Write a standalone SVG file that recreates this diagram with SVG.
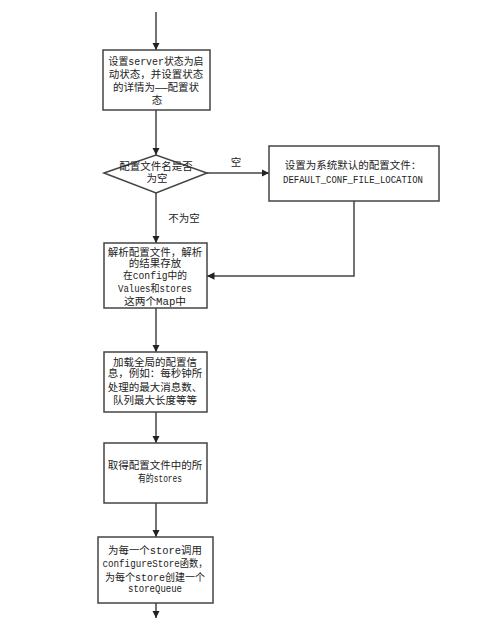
<svg xmlns="http://www.w3.org/2000/svg" width="481" height="630" viewBox="0 0 481 630">
<style>
.box{fill:#fff;stroke:#444;stroke-width:1.5}
.ln{fill:none;stroke:#444;stroke-width:1.5}
text{font-family:"Liberation Mono","Noto Sans CJK SC",monospace;font-size:10.5px;fill:#222;text-anchor:middle}
</style>
<defs>
<marker id="ah" viewBox="0 0 10 10" refX="10" refY="5" markerWidth="5" markerHeight="5" orient="auto" markerUnits="strokeWidth">
<path d="M0,0 L10,5 L0,10 Z" fill="#222"/>
</marker>
</defs>
<rect width="481" height="630" fill="#fff"/>
<g id="connectors">
<line class="ln" x1="156" y1="12" x2="156" y2="50" marker-end="url(#ah)"/>
<line class="ln" x1="156" y1="110" x2="156" y2="155" marker-end="url(#ah)"/>
<line class="ln" x1="207" y1="173" x2="269" y2="173" marker-end="url(#ah)"/>
<text x="236" y="166">空</text>
<line class="ln" x1="156" y1="193" x2="156" y2="243" marker-end="url(#ah)"/>
<text x="184" y="222">不为空</text>
<polyline class="ln" points="354,201 354,276 207,276" marker-end="url(#ah)"/>
<line class="ln" x1="156" y1="308" x2="156" y2="352" marker-end="url(#ah)"/>
<line class="ln" x1="156" y1="412" x2="156" y2="443" marker-end="url(#ah)"/>
<line class="ln" x1="156" y1="503" x2="156" y2="537" marker-end="url(#ah)"/>
<line class="ln" x1="156" y1="603" x2="156" y2="618" marker-end="url(#ah)"/>
</g>
<g id="n1">
<rect class="box" x="103" y="50" width="107" height="60"/>
<text x="156" y="65" textLength="95" lengthAdjust="spacingAndGlyphs">设置server状态为启</text>
<text x="156" y="78">动状态，并设置状态</text>
<text x="156" y="91">的详情为——配置状</text>
<text x="157" y="104">态</text>
</g>
<g id="n2">
<polygon class="box" points="104,173 156,155 207,173 156,193"/>
<text x="156" y="170">配置文件名是否</text>
<text x="157" y="182">为空</text>
</g>
<g id="n3">
<rect class="box" x="269" y="146" width="170" height="55"/>
<text x="353" y="169">设置为系统默认的配置文件：</text>
<text x="353" y="183" textLength="140" lengthAdjust="spacingAndGlyphs">DEFAULT_CONF_FILE_LOCATION</text>
</g>
<g id="n4">
<rect class="box" x="104" y="243" width="103" height="65"/>
<text x="155" y="255.5">解析配置文件，解析</text>
<text x="155" y="267">的结果存放</text>
<text x="155" y="279" textLength="64" lengthAdjust="spacingAndGlyphs">在config中的</text>
<text x="155" y="292" textLength="74" lengthAdjust="spacingAndGlyphs">Values和stores</text>
<text x="155" y="305" textLength="62" lengthAdjust="spacingAndGlyphs">这两个Map中</text>
</g>
<g id="n5">
<rect class="box" x="104" y="352" width="103" height="60"/>
<text x="155" y="365.5">加载全局的配置信</text>
<text x="155" y="377">息，例如：每秒钟所</text>
<text x="155" y="390.5">处理的最大消息数、</text>
<text x="155" y="404">队列最大长度等等</text>
</g>
<g id="n6">
<rect class="box" x="104" y="443" width="103" height="60"/>
<text x="155" y="469">取得配置文件中的所</text>
<text x="160" y="482" textLength="44" lengthAdjust="spacingAndGlyphs">有的stores</text>
</g>
<g id="n7">
<rect class="box" x="98" y="537" width="115" height="66"/>
<text x="155" y="554" textLength="94" lengthAdjust="spacingAndGlyphs">为每一个store调用</text>
<text x="155" y="567" textLength="105" lengthAdjust="spacingAndGlyphs">configureStore函数，</text>
<text x="155" y="581" textLength="100" lengthAdjust="spacingAndGlyphs">为每个store创建一个</text>
<text x="155" y="592" textLength="54" lengthAdjust="spacingAndGlyphs">storeQueue</text>
</g>
</svg>
